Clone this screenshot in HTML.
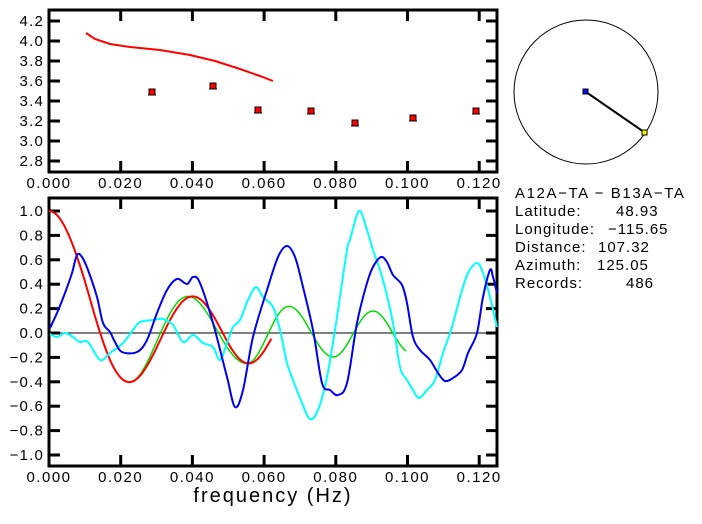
<!DOCTYPE html>
<html><head><meta charset="utf-8"><style>
body{margin:0;background:#fff;width:702px;height:519px;overflow:hidden}
text{font-family:"Liberation Sans",sans-serif;fill:#000}
</style></head><body>
<svg id="s" width="702" height="519" xmlns="http://www.w3.org/2000/svg">
<rect x="0" y="0" width="702" height="519" fill="#fff"/>
<g id="g"></g>
</svg>
<script>
const NS="http://www.w3.org/2000/svg";
const g=document.getElementById('g');
function el(t,a,txt){const e=document.createElementNS(NS,t);for(const k in a)e.setAttribute(k,a[k]);if(txt!==undefined)e.textContent=txt;g.appendChild(e);return e;}
const X0=49,X1=497,FX=3585;
const fx=f=>X0+f*FX;
const T0=10,T1=172;
const ty=v=>41+(4.0-v)*100;
const B0=198,B1=466;
const by=v=>333-122*v;
function axes(top,bot,yvals,yfun,tickLen){
  el('rect',{x:X0,y:top,width:X1-X0,height:bot-top,fill:'none',stroke:'#000','stroke-width':3});
  for(let i=0;i<=6;i++){const x=fx(i*0.02);
    el('line',{x1:x,y1:top,x2:x,y2:top+11,stroke:'#000','stroke-width':3});
    el('line',{x1:x,y1:bot,x2:x,y2:bot-11,stroke:'#000','stroke-width':3});
    el('text',{x:x,y:bot+16,'text-anchor':'middle','font-size':'15','letter-spacing':'1.5'},(i*0.02).toFixed(3));
  }
  yvals.forEach(v=>{const y=yfun(v);
    el('line',{x1:X0,y1:y,x2:X0+tickLen,y2:y,stroke:'#000','stroke-width':3});
    el('line',{x1:X1,y1:y,x2:X1-tickLen,y2:y,stroke:'#000','stroke-width':3});
    el('text',{x:44,y:y+5,'text-anchor':'end','font-size':'15','letter-spacing':'1.2'},(v<0?'\u2212'+Math.abs(v).toFixed(1):v.toFixed(1)));
  });
}
axes(T0,T1,[4.2,4.0,3.8,3.6,3.4,3.2,3.0,2.8],ty,11);
const bv=[];for(let i=10;i>=-10;i-=2)bv.push(i/10);
axes(B0,B1,bv,by,11);
el('line',{x1:X0,y1:333,x2:X1,y2:333,stroke:'#000','stroke-width':1});
el('text',{x:273,y:502,'text-anchor':'middle','font-size':'20','letter-spacing':'2'},'frequency (Hz)');
const tr=[[86,33],[95,39],[110,44],[130,47],[160,50],[190,55],[215,61],[240,69],[260,76],[273,81]];
el('polyline',{points:tr.map(p=>p.join(',')).join(' '),fill:'none',stroke:'#f00','stroke-width':2});
[[152,92],[213,86],[258,110],[311,111],[355,123],[413,118],[476,111]].forEach(p=>{
  el('line',{x1:p[0]-4,y1:p[1]+3,x2:p[0]+4,y2:p[1]+3,stroke:'#000','stroke-width':1});
  el('rect',{x:p[0]-3,y:p[1]-3,width:6,height:6,fill:'#f00',stroke:'#000','stroke-width':1});
});
function J0(x){let s=0,t=1;for(let k=0;k<80;k++){if(k>0)t*=-(x*x/4)/(k*k);s+=t;}return s;}
function cOf(f){const pts=tr.map(p=>[(p[0]-X0)/FX,4.0-(p[1]-41)/100]);
  if(f<=pts[0][0])return pts[0][1];
  for(let i=1;i<pts.length;i++)if(f<=pts[i][0]){const a=pts[i-1],b=pts[i];return a[1]+(b[1]-a[1])*(f-a[0])/(b[0]-a[0]);}
  return pts[pts.length-1][1];}
const rarg=f=>2*Math.PI*f*107.32/cOf(f);
const gm=[[0.0226,rarg(0.0226)],[0.0388,7.016],[0.0552,10.17],[0.0669,13.32],[0.0793,16.47],[0.0904,19.62],[0.1,22.4]];
function garg(f){if(f<=0.0226)return rarg(f);for(let i=1;i<gm.length;i++)if(f<=gm[i][0]){const a=gm[i-1],b=gm[i];return a[1]+(b[1]-a[1])*(f-a[0])/(b[0]-a[0]);}return 22.4;}
let gp=[];for(let f=0;f<=0.0998;f+=0.0004)gp.push(fx(f).toFixed(1)+','+by(J0(garg(f))).toFixed(1));
el('polyline',{points:gp.join(' '),fill:'none',stroke:'#0d0','stroke-width':1.5});
let rp=[];for(let f=0;f<=0.0625;f+=0.0005)rp.push(fx(f).toFixed(1)+','+by(J0(rarg(f))).toFixed(1));
el('polyline',{points:rp.join(' '),fill:'none',stroke:'#f00','stroke-width':2});
const blue=[[50,328],[57,313],[65,293],[72,273],[77,255],[82,257],[88,270],[97,297],[103,323],[110,332],[115,342],[122,352],[137,352],[147,340],[157,313],[167,290],[177,279],[187,284],[193,277],[200,283],[213,323],[227,377],[235,407],[243,390],[253,337],[267,290],[278,257],[287,246],[295,257],[303,287],[313,330],[322,383],[330,390],[338,395],[347,383],[357,323],[367,283],[373,267],[381,257],[387,262],[393,275],[402,285],[407,303],[413,337],[420,350],[430,360],[438,373],[445,381],[453,378],[462,370],[468,353],[477,333],[483,297],[490,270],[493,277],[497,293]];
const cyan=[[50,334],[57,337],[65,333],[73,337],[80,342],[88,342],[100,360],[110,353],[123,343],[133,330],[140,322],[153,320],[163,319],[173,325],[183,342],[193,335],[203,343],[213,347],[220,360],[227,343],[233,327],[240,320],[248,300],[256,287],[263,297],[273,307],[280,330],[287,363],[293,380],[302,403],[310,419],[318,410],[327,377],[337,317],[347,250],[350,240],[359,211],[367,230],[373,250],[383,280],[393,323],[400,367],[407,380],[413,390],[419,398],[427,390],[435,380],[443,353],[452,327],[460,297],[468,273],[477,263],[483,273],[490,297],[497,327]];
function smooth(pts){let d='M'+pts[0].join(',');for(let i=0;i<pts.length-1;i++){const p0=pts[Math.max(0,i-1)],p1=pts[i],p2=pts[i+1],p3=pts[Math.min(pts.length-1,i+2)];
 d+=' C'+(p1[0]+(p2[0]-p0[0])/6).toFixed(1)+','+(p1[1]+(p2[1]-p0[1])/6).toFixed(1)+' '+(p2[0]-(p3[0]-p1[0])/6).toFixed(1)+','+(p2[1]-(p3[1]-p1[1])/6).toFixed(1)+' '+p2.join(',');}return d;}
el('path',{d:smooth(cyan),fill:'none',stroke:'#0ff','stroke-width':2});
el('path',{d:smooth(blue),fill:'none',stroke:'#00e','stroke-width':2});
el('circle',{cx:586,cy:92,r:72,fill:'none',stroke:'#000','stroke-width':1});
el('line',{x1:586,y1:92,x2:644,y2:132,stroke:'#000','stroke-width':2});
el('rect',{x:583,y:89,width:5,height:5,fill:'#00f',stroke:'#000','stroke-width':1});
el('rect',{x:642,y:130,width:5,height:5,fill:'#ff0',stroke:'#000','stroke-width':1});
el('text',{x:515,y:198,'font-size':'15','letter-spacing':'1.6','xml:space':'preserve'},'A12A\u2212TA  \u2212  B13A\u2212TA');
const lines=[['Latitude:','48.93',616],['Longitude:','\u2212115.65',608],['Distance:','107.32',598],['Azimuth:','125.05',597],['Records:','486',626]];
lines.forEach((l,i)=>{const y=216+i*18;
  el('text',{x:515,y:y,'font-size':'15','letter-spacing':'1'},l[0]);
  el('text',{x:l[2],y:y,'font-size':'15','letter-spacing':'1'},l[1]);
});
</script>
</body></html>
